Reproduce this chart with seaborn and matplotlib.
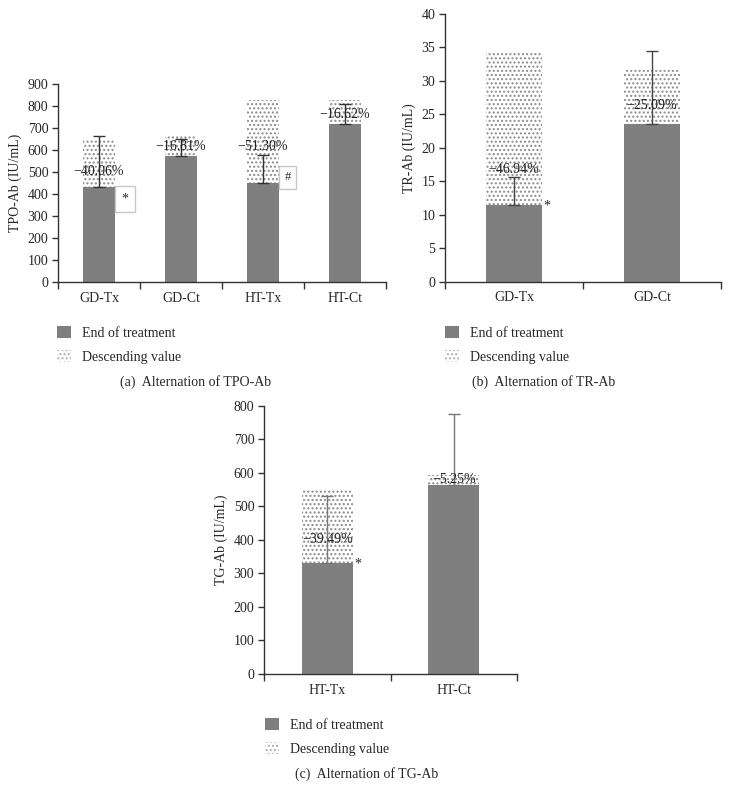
import numpy as np
import pandas as pd
import matplotlib.pyplot as plt
import seaborn as sns
from matplotlib.patches import Patch

# (a) TPO-Ab
tpo_groups = ["GD-Tx", "GD-Ct", "HT-Tx", "HT-Ct"]
tpo_baseline = [650, 665, 829, 829]
tpo_end = [433, 574, 453, 718]
tpo_err_top = [663, 653, 579, 810]
tpo_pct = ["\u221240.06%", "\u221216.81%", "\u221251.30%", "\u221216.62%"]
tpo_pct_y = [503, 615, 615, 765]

# (b) TR-Ab
tr_groups = ["GD-Tx", "GD-Ct"]
tr_baseline = [34.5, 31.6]
tr_end = [11.5, 23.6]
tr_err_top = [15.7, 34.4]
tr_pct = ["\u221246.94%", "\u221225.09%"]
tr_pct_y = [16.7, 26.4]

# (c) TG-Ab
tg_groups = ["HT-Tx", "HT-Ct"]
tg_baseline = [549, 593]
tg_end = [332, 563]
tg_err_top = [532, 774]
tg_pct = ["\u221239.49%", "\u22125.25%"]
tg_pct_y = [400, 581]

BAR = "#7f7f7f"
DOT = "#8c8c8c"
FS = 10

sns.set_theme(style="ticks")
plt.rcParams["font.family"] = ["Liberation Serif", "DejaVu Serif"]
plt.rcParams["hatch.linewidth"] = 1.0


def draw_panel(ax, groups, baseline, end, err_top, pct, pct_y, ymax, ystep, ylabel, ecolor):
    df = pd.DataFrame({"group": groups, "baseline": baseline, "end": end, "err_top": err_top})
    # dotted bar = starting value, solid bar = value at end of treatment
    sns.barplot(data=df, x="group", y="baseline", color="white", saturation=1, width=0.4,
                hatch="....", edgecolor=DOT, linewidth=0, ax=ax)
    sns.barplot(data=df, x="group", y="end", color=BAR, saturation=1, width=0.4,
                linewidth=0, ax=ax)
    x = np.arange(len(groups))
    upper = df["err_top"] - df["end"]
    ax.errorbar(x, df["end"], yerr=[np.zeros(len(groups)), upper], fmt="none",
                ecolor=ecolor, elinewidth=1, capsize=4, capthick=1)
    for xi, t, yi in zip(x, pct, pct_y):
        ax.text(xi, yi, t, ha="center", va="center", fontsize=FS, color="#222222")

    ax.set_ylim(0, ymax)
    ax.set_yticks(np.arange(0, ymax + ystep / 2, ystep))
    ax.set_xlim(-0.5, len(groups) - 0.5)
    ax.set_xticks(np.arange(len(groups) + 1) - 0.5)
    ax.set_xticklabels([])
    ax.set_xticks(x, groups, minor=True)
    ax.tick_params(axis="x", which="major", length=5, width=1, color="#333333", direction="out")
    ax.tick_params(axis="x", which="minor", length=0, pad=7, labelsize=FS)
    ax.tick_params(axis="y", length=4, width=1, color="#333333", direction="out", labelsize=FS, pad=3)
    ax.set_xlabel("")
    ax.set_ylabel(ylabel, fontsize=FS)
    for s in ["top", "right"]:
        ax.spines[s].set_visible(False)
    for s in ["left", "bottom"]:
        ax.spines[s].set_color("#333333")
        ax.spines[s].set_linewidth(1)
    ax.set_facecolor("white")


def add_legend(fig, x, y):
    handles = [Patch(facecolor=BAR, edgecolor="none", linewidth=0),
               Patch(facecolor="white", hatch="....", edgecolor="#b0b0b0", linewidth=0)]
    fig.legend(handles, ["End of treatment", "Descending value"], loc="upper left",
               bbox_to_anchor=(x, y), frameon=False, fontsize=FS, handlelength=1.0,
               handleheight=1.0, handletextpad=0.8, labelspacing=0.7, borderpad=0,
               borderaxespad=0)


W, H = 732, 800
fig = plt.figure(figsize=(W / 100, H / 100), dpi=100, facecolor="white")

ax_a = fig.add_axes([58 / W, 1 - 282.3 / H, 328 / W, 198 / H])
draw_panel(ax_a, tpo_groups, tpo_baseline, tpo_end, tpo_err_top, tpo_pct, tpo_pct_y,
           900, 100, "TPO-Ab (IU/mL)", "#333333")
box = dict(boxstyle="square,pad=0.45", facecolor="white", edgecolor="#c8c8c8", linewidth=1)
ax_a.text(0.317, tpo_end[0] - 55, "*", ha="center", va="center", fontsize=FS, bbox=box)
ax_a.text(2.3, tpo_end[2] + 25, "#", ha="center", va="center", fontsize=FS - 1, bbox=box)

ax_b = fig.add_axes([445 / W, 1 - 281.7 / H, 276 / W, 267.7 / H])
draw_panel(ax_b, tr_groups, tr_baseline, tr_end, tr_err_top, tr_pct, tr_pct_y,
           40, 5, "TR-Ab (IU/mL)", "#444444")
ax_b.text(0.24, tr_end[0] - 0.2, "*", ha="center", va="center", fontsize=FS)

ax_c = fig.add_axes([264 / W, 1 - 674 / H, 253 / W, 268.3 / H])
draw_panel(ax_c, tg_groups, tg_baseline, tg_end, tg_err_top, tg_pct, tg_pct_y,
           800, 100, "TG-Ab (IU/mL)", "#777777")
ax_c.text(0.243, tg_end[0] - 5, "*", ha="center", va="center", fontsize=FS)

add_legend(fig, 57 / W, 1 - 326 / H)
add_legend(fig, 445 / W, 1 - 326 / H)
add_legend(fig, 265 / W, 1 - 718 / H)

fig.text(196 / W, 1 - 382 / H, "(a)  Alternation of TPO-Ab", ha="center", va="center", fontsize=FS)
fig.text(544 / W, 1 - 382 / H, "(b)  Alternation of TR-Ab", ha="center", va="center", fontsize=FS)
fig.text(367 / W, 1 - 774 / H, "(c)  Alternation of TG-Ab", ha="center", va="center", fontsize=FS)

fig.savefig("out.png", dpi=100, facecolor="white")
